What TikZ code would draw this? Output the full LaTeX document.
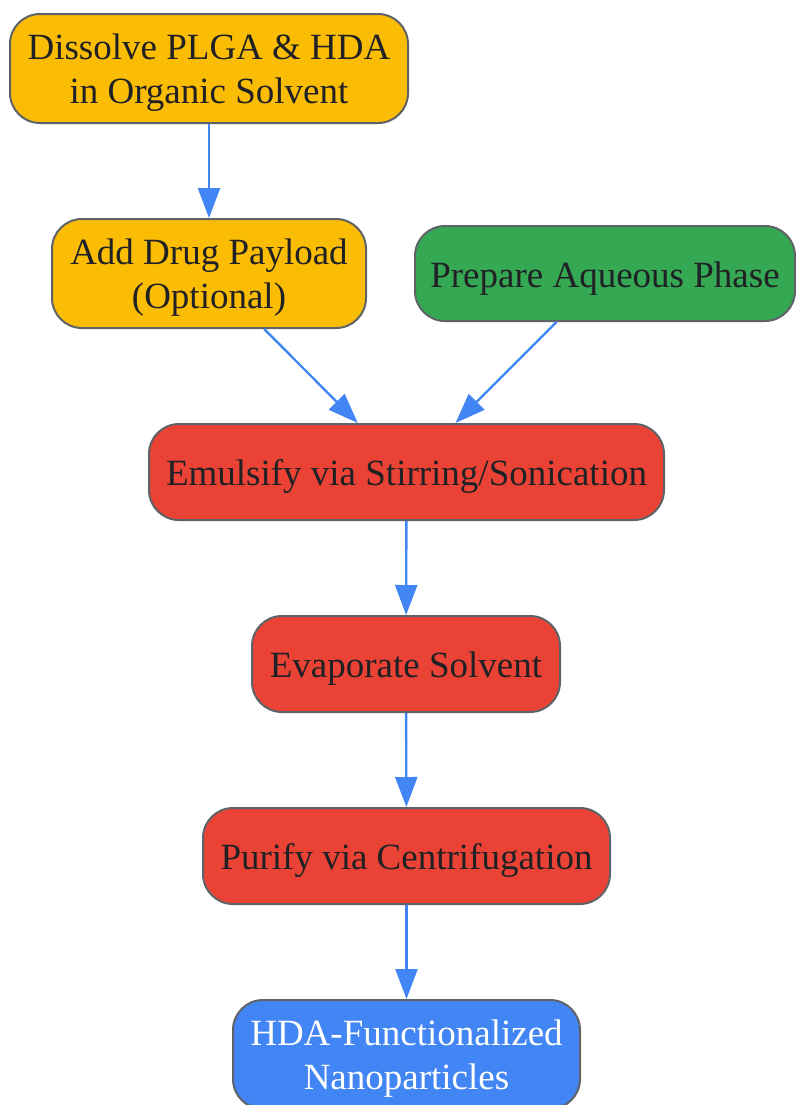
\documentclass[tikz,border=0pt]{standalone}
\usepackage{fontspec}
\setmainfont{Liberation Serif}
\usetikzlibrary{arrows.meta}
\definecolor{stepyellow}{HTML}{FBBC04}
\definecolor{stepgreen}{HTML}{34A853}
\definecolor{stepred}{HTML}{EA4335}
\definecolor{stepblue}{HTML}{4285F4}
\definecolor{stepborder}{HTML}{5F6368}
\definecolor{steptext}{HTML}{202124}
\begin{document}
\begin{tikzpicture}[x=0.5pt, y=-0.5pt,
  stepbox/.style={shape=rectangle, rounded corners=15pt, draw=stepborder, line width=1pt,
    align=center, inner sep=0pt, text=steptext, font=\fontsize{18.5}{22}\selectfont},
  oneline/.style={text height=17.5pt, text depth=4pt},
  twoline/.style={text height=39pt, text depth=4.5pt},
  flow/.style={-{Triangle[length=15pt, width=11pt]}, line width=1.2pt, color=stepblue}]
\useasboundingbox (0,0) rectangle (796,1105);
\node[stepbox, twoline, fill=stepyellow, minimum width=199pt, minimum height=54.5pt] (dissolve) at (209,68.5) {Dissolve PLGA \& HDA\\in Organic Solvent};
\node[stepbox, twoline, fill=stepyellow, minimum width=157pt, minimum height=54.5pt] (drug) at (209,273.5) {Add Drug Payload\\(Optional)};
\node[stepbox, oneline, fill=stepgreen, minimum width=190pt, minimum height=47.5pt] (aqueous) at (605,273.5) {Prepare Aqueous Phase};
\node[stepbox, oneline, fill=stepred, minimum width=257.5pt, minimum height=48pt] (emulsify) at (406.5,472) {Emulsify via Stirring/Sonication};
\node[stepbox, oneline, fill=stepred, minimum width=154pt, minimum height=48pt] (evaporate) at (406,664) {Evaporate Solvent};
\node[stepbox, oneline, fill=stepred, minimum width=203.5pt, minimum height=48pt] (purify) at (406.5,856) {Purify via Centrifugation};
\node[stepbox, twoline, fill=stepblue, text=white, minimum width=173.5pt, minimum height=54.5pt] (product) at (406.5,1054.5) {HDA-Functionalized\\Nanoparticles};
\path [flow] (dissolve) edge (drug);
\path [flow] (drug) edge (emulsify);
\path [flow] (aqueous) edge (emulsify);
\path [flow] (emulsify) edge (evaporate);
\path [flow] (evaporate) edge (purify);
\path [flow] (purify) edge (product);
\end{tikzpicture}
\end{document}
